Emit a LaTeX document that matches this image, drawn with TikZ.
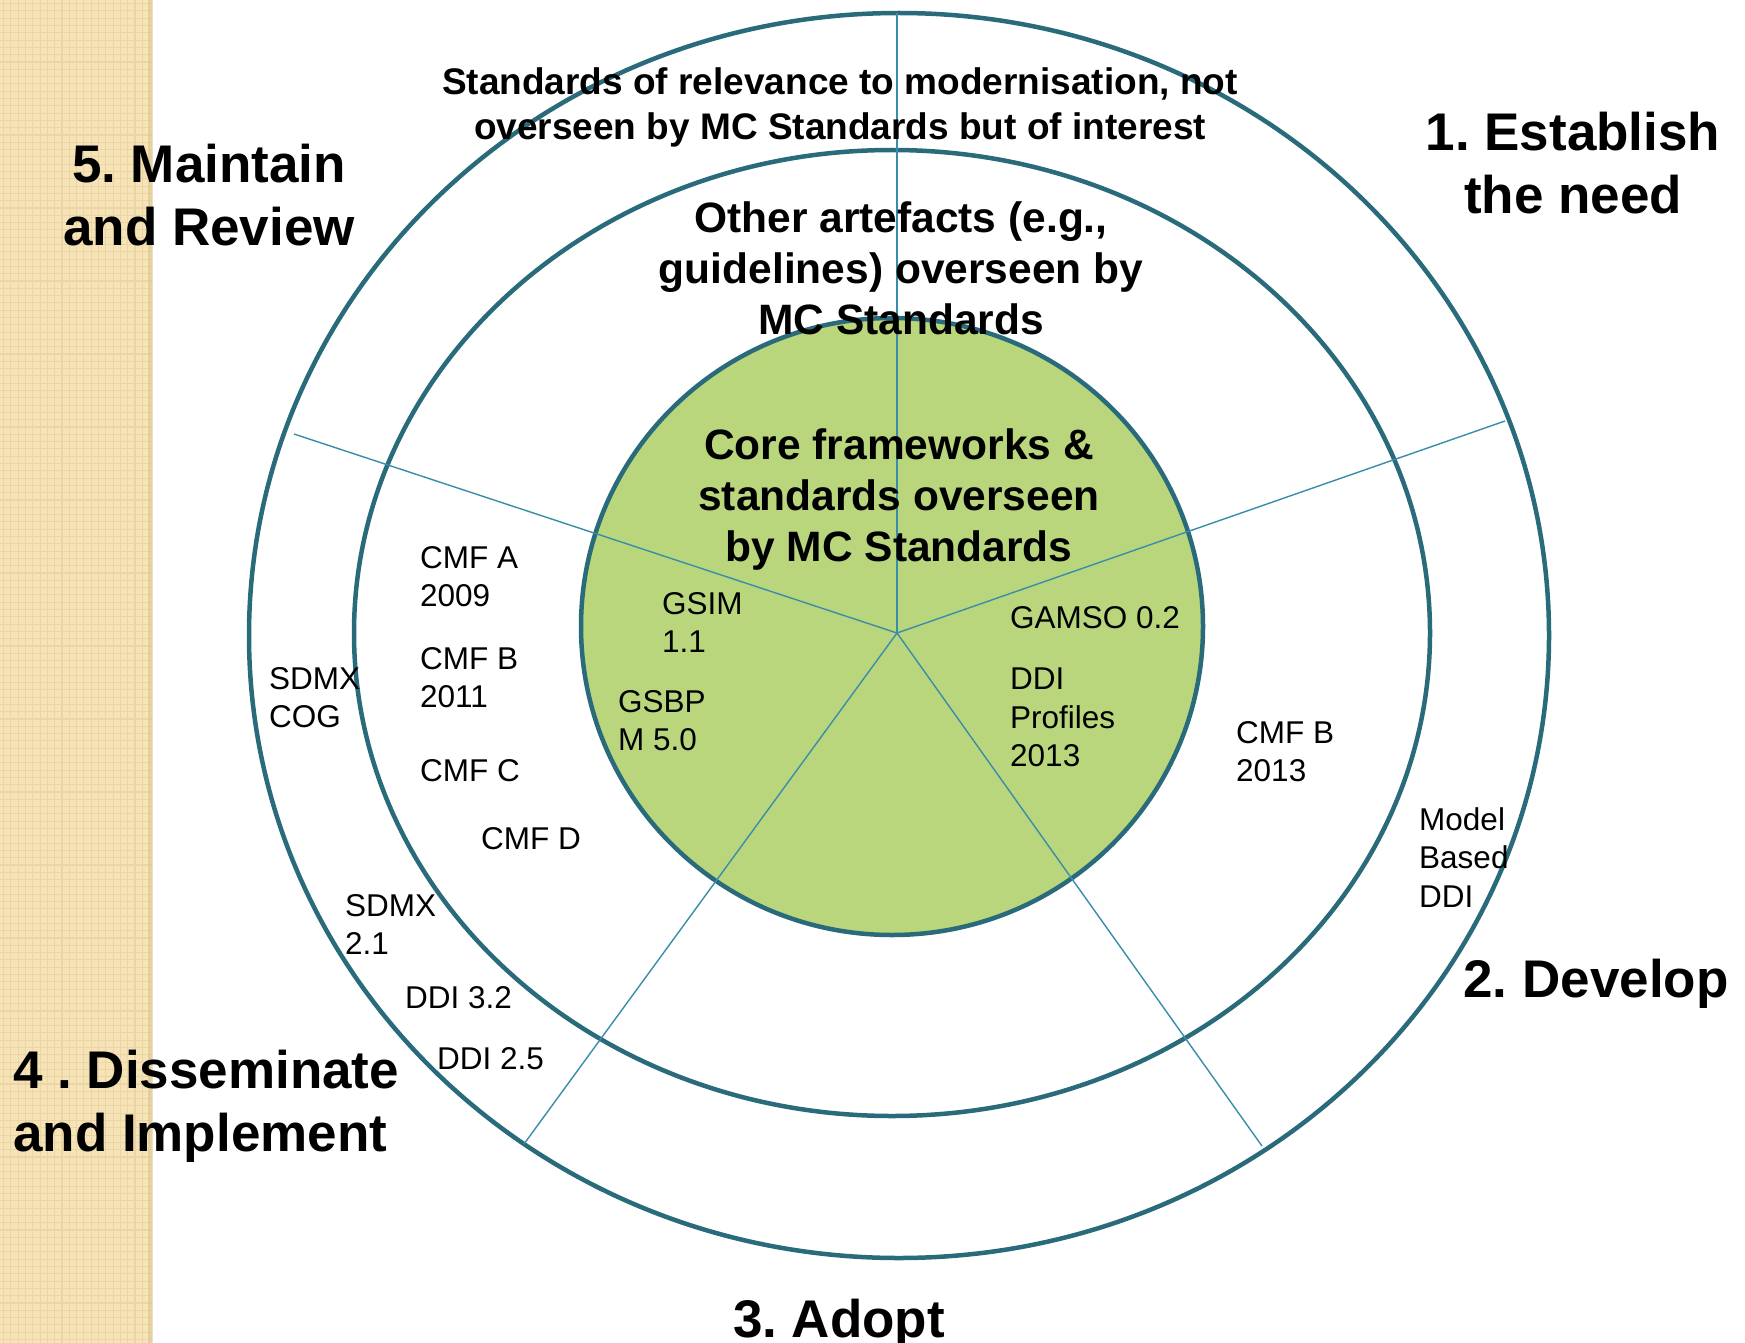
\documentclass[tikz,border=0pt]{standalone}
\usepackage{fontspec}
\setmainfont{Liberation Sans}
\frenchspacing
\definecolor{ring}{HTML}{296A7B}
\definecolor{spoke}{HTML}{3A8DAA}
\definecolor{core}{HTML}{B9D67D}
\definecolor{stripA}{HTML}{F6E4B8}
\definecolor{stripB}{HTML}{EAD5A3}
\definecolor{stripC}{HTML}{D9C38E}
\begin{document}
\begin{tikzpicture}[x=1pt,y=-1pt,
  ringline/.style={draw=ring,line width=4.5pt},
  spokeline/.style={draw=spoke,line width=1.4pt},
  biglabel/.style={font=\fontsize{53}{63}\selectfont\bfseries,inner sep=0pt,align=center},
  medlabel/.style={font=\fontsize{42.5}{51}\selectfont\bfseries,inner sep=0pt,align=center},
  toplabel/.style={font=\fontsize{37}{45.6}\selectfont\bfseries,inner sep=0pt,align=center},
  smalllabel/.style={font=\fontsize{31.5}{38.5}\selectfont,inner sep=0pt,align=left,anchor=west}]
\useasboundingbox (0,0) rectangle (1745,1343);
\fill[white] (0,0) rectangle (1745,1343);
% decorative strip
\fill[stripA] (0,0) rectangle (152,1343);
\foreach \i in {0,...,20} {\draw[stripB,line width=1.1pt] ({\i*7.3+3.6},0) -- ({\i*7.3+3.6},1343);}
\foreach \j in {0,...,184} {\draw[stripB,line width=1.1pt] (0,{\j*7.3+3.6}) -- (152,{\j*7.3+3.6});}
\fill[stripC,opacity=0.5] (148,0) rectangle (153,1343);
% rings
\draw[ringline] (899,635.5) ellipse [x radius=650pt,y radius=622.5pt];
\draw[ringline] (892,633) ellipse [x radius=538pt,y radius=483pt];
\draw[ringline,fill=core] (892,626.5) ellipse [x radius=311pt,y radius=308.5pt];
% spokes
\coordinate (c) at (897,633);
\coordinate (eT) at (897,13);
\coordinate (eUR) at (1505,421);
\coordinate (eUL) at (294,434);
\coordinate (eLL) at (524,1144);
\coordinate (eLR) at (1262,1146);
\foreach \e in {eT,eUR,eUL,eLL,eLR} {\draw[spokeline] (c) -- (\e);}
% large stage labels
\node[biglabel] (s5) at (209,195.5) {5. Maintain\\and Review};
\node[biglabel] (s1) at (1573,163) {1. Establish\\the need};
\node[biglabel] (s2) at (1596,984) {2. Develop};
\node[biglabel] (s3) at (839,1324) {3. Adopt};
\node[biglabel,align=left,anchor=west] (s4) at (13,1106.5) {4 . Disseminate\\and Implement};
% ring titles
\node[toplabel] (tOuter) at (840,107.5) {Standards of relevance to modernisation, not\\overseen by MC Standards but of interest};
\node[medlabel] (tMid) at (901,268.5) {Other artefacts (e.g.,\\guidelines) overseen by\\MC Standards};
\node[medlabel] (tCore) at (899,499.5) {Core frameworks \&\\standards overseen\\by MC Standards};
% small labels
\node[smalllabel] (cmfA) at (420,576.5) {CMF A\\2009};
\node[smalllabel] (cmfB) at (420,677.5) {CMF B\\2011};
\node[smalllabel] (cmfC) at (420,771) {CMF C};
\node[smalllabel] (cmfD) at (481,839) {CMF D};
\node[smalllabel] (sdmxcog) at (269,697.5) {SDMX\\COG};
\node[smalllabel] (sdmx21) at (345,924.5) {SDMX\\2.1};
\node[smalllabel] (ddi32) at (405,998) {DDI 3.2};
\node[smalllabel] (ddi25) at (437,1059) {DDI 2.5};
\node[smalllabel] (gsim) at (662,622.5) {GSIM\\1.1};
\node[smalllabel] (gsbp) at (618,720.5) {GSBP\\M 5.0};
\node[smalllabel] (gamso) at (1010,617.5) {GAMSO 0.2};
\node[smalllabel] (ddiprof) at (1010,717.5) {DDI\\Profiles\\2013};
\node[smalllabel] (cmfB13) at (1236,751.5) {CMF B\\2013};
\node[smalllabel] (mbddi) at (1419,857.5) {Model\\Based\\DDI};
\end{tikzpicture}
\end{document}
